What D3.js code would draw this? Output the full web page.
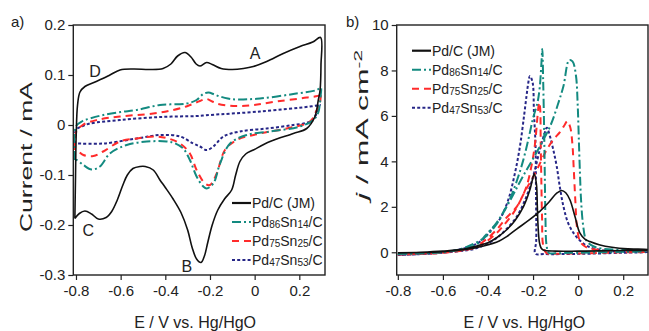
<!DOCTYPE html>
<html>
<head>
<meta charset="utf-8">
<script src="https://cdn.jsdelivr.net/npm/d3@7"></script>
<style>
  body { margin: 0; background: #fff; }
  svg text { font-family: "Liberation Sans", Arial, sans-serif; fill: #222; }
</style>
</head>
<body>
<div id="chartDiv"></div>
<script>
// ---- data: panel a) cyclic voltammograms, [E (V), I (mA)] ----
var cvPdC = [
  [-0.805,-0.187],[-0.802,-0.1],[-0.799,-0.02],[-0.793,0.04],[-0.782,0.066],[-0.76,0.077],[-0.72,0.085],
  [-0.68,0.093],[-0.648,0.1],[-0.603,0.11],[-0.543,0.112],[-0.469,0.111],[-0.41,0.113],[-0.375,0.122],
  [-0.345,0.138],[-0.312,0.145],[-0.285,0.136],[-0.262,0.122],[-0.245,0.118],[-0.215,0.125],[-0.19,0.121],
  [-0.15,0.113],[-0.1,0.111],[-0.05,0.113],[-0.006,0.117],[0.054,0.127],[0.128,0.143],[0.203,0.157],
  [0.26,0.166],[0.295,0.175],
  [0.297,0.12],[0.293,0.07],[0.285,0.05],[0.27,0.017],[0.233,-0.007],[0.173,-0.017],[0.069,-0.033],
  [-0.006,-0.05],[-0.04,-0.058],[-0.066,-0.073],[-0.085,-0.1],[-0.103,-0.13],[-0.135,-0.148],[-0.165,-0.17],
  [-0.19,-0.2],[-0.21,-0.235],[-0.225,-0.262],[-0.24,-0.275],[-0.26,-0.268],[-0.28,-0.245],[-0.3,-0.21],
  [-0.33,-0.175],[-0.365,-0.148],[-0.4,-0.125],[-0.424,-0.11],[-0.454,-0.09],[-0.49,-0.083],[-0.513,-0.083],
  [-0.545,-0.087],[-0.57,-0.1],[-0.59,-0.12],[-0.615,-0.15],[-0.64,-0.173],[-0.665,-0.185],[-0.7,-0.188],
  [-0.73,-0.178],[-0.76,-0.172],[-0.785,-0.177],[-0.805,-0.187]
];
var cvPd86 = [
  [-0.805,-0.07],[-0.8,-0.003],[-0.77,0.008],[-0.737,0.013],[-0.678,0.02],[-0.6,0.026],[-0.528,0.03],
  [-0.424,0.04],[-0.304,0.043],[-0.26,0.05],[-0.23,0.062],[-0.207,0.065],[-0.18,0.061],[-0.155,0.057],
  [-0.12,0.053],[-0.08,0.051],[0.024,0.053],[0.173,0.062],[0.278,0.07],[0.296,0.075],
  [0.296,0.06],[0.292,0.043],[0.285,0.025],[0.263,0.01],[0.203,-0.003],[0.069,-0.013],[-0.036,-0.02],
  [-0.11,-0.037],[-0.155,-0.077],[-0.185,-0.117],[-0.215,-0.127],[-0.23,-0.123],[-0.26,-0.103],[-0.29,-0.07],
  [-0.32,-0.047],[-0.36,-0.036],[-0.394,-0.033],[-0.483,-0.033],[-0.573,-0.04],[-0.648,-0.057],[-0.693,-0.083],
  [-0.73,-0.089],[-0.767,-0.08],[-0.797,-0.07],[-0.805,-0.07]
];
var cvPd75 = [
  [-0.805,-0.05],[-0.8,-0.015],[-0.77,0.0],[-0.707,0.01],[-0.603,0.017],[-0.454,0.023],[-0.364,0.03],
  [-0.3,0.038],[-0.245,0.048],[-0.215,0.052],[-0.19,0.047],[-0.17,0.043],[-0.096,0.038],[-0.006,0.04],
  [0.099,0.047],[0.233,0.055],[0.293,0.06],[0.297,0.065],
  [0.296,0.057],[0.29,0.04],[0.278,0.03],[0.255,0.01],[0.233,0.003],[0.143,-0.007],[0.024,-0.017],
  [-0.08,-0.03],[-0.133,-0.05],[-0.17,-0.097],[-0.2,-0.12],[-0.222,-0.117],[-0.26,-0.09],[-0.29,-0.057],
  [-0.334,-0.037],[-0.38,-0.028],[-0.439,-0.023],[-0.528,-0.027],[-0.603,-0.033],[-0.678,-0.053],
  [-0.722,-0.062],[-0.767,-0.06],[-0.797,-0.05],[-0.805,-0.05]
];
var cvPd47 = [
  [-0.805,-0.037],[-0.8,-0.01],[-0.77,-0.002],[-0.737,0.003],[-0.603,0.01],[-0.424,0.016],[-0.26,0.018],
  [-0.2,0.02],[0.024,0.027],[0.248,0.037],[0.293,0.04],
  [0.29,0.04],[0.278,0.023],[0.248,0.007],[0.173,0.0],[0.054,-0.007],[-0.066,-0.013],[-0.14,-0.023],
  [-0.185,-0.043],[-0.215,-0.05],[-0.245,-0.043],[-0.275,-0.037],[-0.334,-0.023],[-0.424,-0.02],
  [-0.528,-0.027],[-0.678,-0.037],[-0.797,-0.037],[-0.805,-0.037]
];

// ---- data: panel b) ethanol oxidation, [E (V), j (mA cm-2)] ----
var eoPdC = [
  [-0.8,-0.03],[-0.7,-0.01],[-0.6,0.03],[-0.5,0.12],[-0.42,0.28],[-0.35,0.5],[-0.317,0.69],[-0.273,1.02],
  [-0.22,1.4],[-0.17,1.8],[-0.13,2.2],[-0.095,2.6],[-0.073,2.72],[-0.055,2.62],[-0.036,2.3],[-0.014,1.57],
  [0.008,0.84],[0.03,0.58],[0.052,0.47],[0.097,0.32],[0.15,0.22],[0.22,0.15],[0.31,0.12],
  [0.31,0.1],[0.2,0.08],[0.1,0.06],[0.0,0.05],[-0.1,0.05],[-0.155,0.1],[-0.165,0.2],[-0.172,0.45],
  [-0.178,1.2],[-0.181,2.0],[-0.185,3.0],[-0.195,3.45],[-0.205,3.1],[-0.214,2.75],[-0.243,2.0],[-0.28,1.4],
  [-0.317,0.99],[-0.36,0.65],[-0.4,0.42],[-0.45,0.28],[-0.5,0.15],[-0.6,0.05],[-0.7,0.0],[-0.8,-0.02]
];
var eoPd86 = [
  [-0.8,-0.08],[-0.7,-0.05],[-0.6,0.0],[-0.52,0.15],[-0.48,0.3],[-0.422,0.6],[-0.38,1.0],[-0.333,1.72],
  [-0.29,2.5],[-0.245,3.34],[-0.184,4.4],[-0.124,5.55],[-0.09,6.5],[-0.065,7.32],[-0.04,8.45],[-0.025,8.4],
  [-0.01,7.8],[-0.002,6.5],[0.003,5.0],[0.008,3.5],[0.013,2.3],[0.022,1.2],[0.035,0.55],[0.06,0.3],
  [0.1,0.17],[0.2,0.1],[0.31,0.08],
  [0.31,0.06],[0.2,0.02],[0.0,-0.02],[-0.1,-0.04],[-0.13,-0.03],[-0.14,0.3],[-0.145,1.5],[-0.148,3.5],
  [-0.151,5.5],[-0.155,7.5],[-0.159,8.94],[-0.163,8.3],[-0.17,7.3],[-0.18,6.6],[-0.2,5.9],[-0.22,5.0],
  [-0.245,4.0],[-0.27,3.2],[-0.3,2.4],[-0.33,1.8],[-0.362,1.3],[-0.41,0.75],[-0.45,0.35],[-0.5,0.15],
  [-0.6,0.02],[-0.7,-0.05],[-0.8,-0.08]
];
var eoPd75 = [
  [-0.8,-0.1],[-0.7,-0.06],[-0.6,0.0],[-0.5,0.12],[-0.46,0.22],[-0.41,0.55],[-0.362,0.99],[-0.32,1.5],
  [-0.272,2.01],[-0.235,2.7],[-0.198,3.34],[-0.165,4.0],[-0.139,4.52],[-0.11,4.95],[-0.08,5.3],[-0.06,5.6],
  [-0.048,5.77],[-0.035,5.5],[-0.025,4.7],[-0.02,3.78],[-0.012,2.2],[-0.005,1.1],[0.01,0.45],[0.04,0.2],
  [0.1,0.1],[0.2,0.05],[0.31,0.05],
  [0.31,0.03],[0.2,0.0],[0.0,-0.05],[-0.1,-0.06],[-0.14,-0.04],[-0.155,0.3],[-0.16,1.5],[-0.163,3.0],
  [-0.166,4.8],[-0.169,6.4],[-0.173,6.6],[-0.18,6.0],[-0.191,4.8],[-0.205,3.9],[-0.229,2.9],[-0.26,2.2],
  [-0.288,1.72],[-0.325,1.25],[-0.362,0.84],[-0.41,0.45],[-0.45,0.22],[-0.5,0.1],[-0.6,-0.02],[-0.7,-0.07],
  [-0.8,-0.1]
];
var eoPd47 = [
  [-0.8,-0.12],[-0.7,-0.08],[-0.6,-0.02],[-0.5,0.08],[-0.46,0.15],[-0.41,0.35],[-0.362,0.62],[-0.32,1.0],
  [-0.272,1.57],[-0.24,2.2],[-0.213,2.9],[-0.19,3.7],[-0.17,4.52],[-0.15,5.2],[-0.139,5.48],[-0.125,5.1],
  [-0.11,4.5],[-0.095,3.78],[-0.08,2.8],[-0.065,2.01],[-0.045,1.3],[-0.02,0.84],[0.01,0.5],[0.045,0.25],
  [0.12,0.07],[0.2,0.03],[0.31,0.05],
  [0.31,0.03],[0.2,-0.02],[0.0,-0.07],[-0.15,-0.08],[-0.19,-0.06],[-0.186,0.5],[-0.187,2.5],[-0.189,4.67],
  [-0.196,6.14],[-0.202,7.47],[-0.214,7.76],[-0.222,7.4],[-0.229,6.88],[-0.24,6.0],[-0.258,4.67],
  [-0.28,3.5],[-0.31,2.31],[-0.345,1.5],[-0.385,0.99],[-0.43,0.5],[-0.48,0.25],[-0.55,0.08],[-0.65,-0.05],
  [-0.8,-0.12]
];

var xTicks = [-0.8, -0.6, -0.4, -0.2, 0, 0.2];
var yTicksA = [-0.3, -0.2, -0.1, 0, 0.1, 0.2];
var yTicksB = [0, 2, 4, 6, 8, 10];

// legend entries: main text, subscript 1, middle, subscript 2, tail
var legendNames = [
  ["Pd/C (JM)", "", "", "", ""],
  ["Pd", "86", "Sn", "14", "/C"],
  ["Pd", "75", "Sn", "25", "/C"],
  ["Pd", "47", "Sn", "53", "/C"]
];
var seriesColors = ["#111111", "#138a80", "#ff2b2b", "#262687"];
var seriesDash = [null, "9,3,2,3", "7,5", "3,2.2"];
var seriesWidth = [1.6, 2, 2, 2];

// peak labels in panel a) [label, E, I]
var peakLabels = [["A", 0.002, 0.143], ["B", -0.304, -0.283], ["C", -0.745, -0.21], ["D", -0.715, 0.107]];

var width = 649, height = 331;
var svg = d3.select("#chartDiv").append("svg")
    .attr("width", width)
    .attr("height", height);

function drawPanel(opts) {
    var x = d3.scaleLinear().domain(opts.xDomain).range([opts.left, opts.right]);
    var y = d3.scaleLinear().domain(opts.yDomain).range([275, 25]);
    var g = svg.append("g");

    var xAxis = d3.axisBottom(x).tickValues(xTicks).tickSize(5).tickSizeOuter(0).tickPadding(5)
        .tickFormat(d => String(+d.toFixed(1)));
    var yAxis = d3.axisLeft(y).tickValues(opts.yTicks).tickSize(5).tickSizeOuter(0).tickPadding(3)
        .tickFormat(d => String(+d.toFixed(1)));

    g.append("g").attr("transform", "translate(0,275)").call(xAxis);
    g.append("g").attr("transform", `translate(${opts.left},0)`).call(yAxis);
    g.selectAll(".domain").remove();
    g.selectAll(".tick line").attr("stroke", "#222").attr("stroke-width", 1.2);
    g.selectAll(".tick text").style("font-size", "15px").attr("fill", "#222");

    // clip the curves to the plot box
    var clipId = "clip" + opts.name;
    svg.append("clipPath").attr("id", clipId)
        .append("rect").attr("x", opts.left).attr("y", 25)
        .attr("width", opts.right - opts.left).attr("height", 250);

    var line = d3.line()
        .x(d => x(d[0]))
        .y(d => y(d[1]))
        .curve(d3.curveCatmullRom.alpha(0.5));

    var cg = g.append("g").attr("clip-path", `url(#${clipId})`);
    // draw from the back: Pd47 first, Pd/C last
    [3, 2, 1, 0].forEach(i => {
        cg.append("path")
            .attr("d", line(opts.series[i]))
            .attr("fill", "none")
            .attr("stroke", seriesColors[i])
            .attr("stroke-width", seriesWidth[i])
            .attr("stroke-dasharray", seriesDash[i]);
    });

    g.append("rect")
        .attr("x", opts.left).attr("y", 25)
        .attr("width", opts.right - opts.left).attr("height", 250)
        .attr("fill", "none").attr("stroke", "#222").attr("stroke-width", 1.4);

    // legend
    var lg = g.append("g");
    legendNames.forEach((nm, i) => {
        var ly = opts.legendY + i * 19;
        lg.append("line")
            .attr("x1", opts.legendX).attr("x2", opts.legendX + 19)
            .attr("y1", ly).attr("y2", ly)
            .attr("stroke", seriesColors[i])
            .attr("stroke-width", i == 0 ? 2.2 : 2)
            .attr("stroke-dasharray", seriesDash[i]);
        var t = lg.append("text")
            .attr("x", opts.legendX + 20).attr("y", ly + 5)
            .style("font-size", "14px");
        t.append("tspan").text(nm[0]);
        if (nm[1]) {
            t.append("tspan").text(nm[1]).style("font-size", "10px").attr("dy", 1);
            t.append("tspan").text(nm[2]).attr("dy", -1);
            t.append("tspan").text(nm[3]).style("font-size", "10px").attr("dy", 1);
            t.append("tspan").text(nm[4]).attr("dy", -1);
        }
    });

    // x axis title
    g.append("text")
        .attr("x", (opts.left + opts.right) / 2 + opts.titleShift).attr("y", 328)
        .attr("text-anchor", "middle")
        .style("font-size", "16px")
        .text("E / V vs. Hg/HgO");

    // panel letter
    g.append("text")
        .attr("x", opts.letterX).attr("y", 27)
        .style("font-size", "15px")
        .text(opts.letter);

    return {x: x, y: y, g: g};
}

var pa = drawPanel({
    name: "a", left: 73.3, right: 325, xDomain: [-0.812, 0.315], yDomain: [-0.3, 0.2],
    yTicks: yTicksA, series: [cvPdC, cvPd86, cvPd75, cvPd47],
    legendX: 232, legendY: 203, letter: "a)", letterX: 11, titleShift: -4
});
var pb = drawPanel({
    name: "b", left: 396.7, right: 648, xDomain: [-0.805, 0.31], yDomain: [-1, 10],
    yTicks: yTicksB, series: [eoPdC, eoPd86, eoPd75, eoPd47],
    legendX: 412, legendY: 50.7, letter: "b)", letterX: 346, titleShift: 2
});

// y axis titles (stretched along their length as in the source figure)
svg.append("text")
    .attr("transform", "translate(32,157) rotate(-90)")
    .attr("text-anchor", "middle")
    .attr("textLength", 150)
    .attr("lengthAdjust", "spacingAndGlyphs")
    .style("font-size", "17px")
    .text("Current / mA");

var jt = svg.append("text")
    .attr("transform", "translate(368,125) rotate(-90)")
    .attr("text-anchor", "middle")
    .attr("textLength", 150)
    .attr("lengthAdjust", "spacingAndGlyphs")
    .style("font-size", "17px");
jt.append("tspan").text("j").style("font-style", "italic");
jt.append("tspan").text(" / mA cm");
jt.append("tspan").text("-2").style("font-size", "11px").attr("dy", -6);

// peak labels A-D
pa.g.selectAll(".peak").data(peakLabels).enter().append("text")
    .attr("class", "peak")
    .attr("x", d => pa.x(d[1]))
    .attr("y", d => pa.y(d[2]))
    .attr("text-anchor", "middle")
    .attr("dominant-baseline", "central")
    .style("font-size", "16px")
    .text(d => d[0]);
</script>
</body>
</html>
